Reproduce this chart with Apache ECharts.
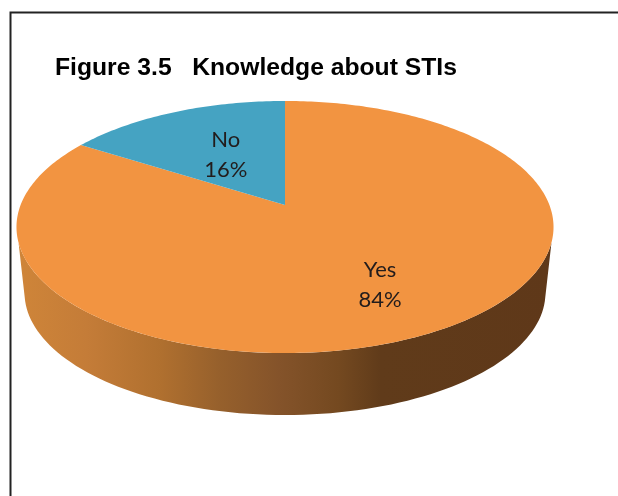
<!DOCTYPE html>
<html><head><meta charset="utf-8">
<style>html,body{margin:0;padding:0;background:#fff}#c{width:618px;height:496px}</style>
<script src="https://cdn.jsdelivr.net/npm/echarts@6/dist/echarts.min.js"></script>
</head><body><div id="c"></div>
<script>
var categories = ['Yes', 'No'];
var values = [84, 16];
var sliceColors = ['#F29441', '#45A3C2'];
var chartTitle = 'Figure 3.5   Knowledge about STIs';

var chart = echarts.init(document.getElementById('c'), null, {renderer:'canvas'});

// perspective view of the disc
var CX = 285, P = 0.1746;
function proj(th, level) {
  var X = Math.sin(th), Y = Math.cos(th), d = 1 + P * Y;
  var s = level ? 0.97 : 1, yc = level ? 271.4 : 205;
  return [CX + s * 264.4 * X / d, yc - s * 122.2 * Y / d];
}
function flat(v, r) { var d = 1 + P * r * Math.cos(v); return [CX + 264.4 * r * Math.sin(v) / d, 205 - 122.2 * r * Math.cos(v) / d]; }
var total = values.reduce(function (a, b) { return a + b; }, 0);
var TAU = Math.PI * 2;
var RAD = Math.PI / 180;

var rimGradient = new echarts.graphic.LinearGradient(18, 0, 552, 0, [
  {offset: 0, color: '#CF8539'},
  {offset: 0.13, color: '#C47C38'},
  {offset: 0.266, color: '#B0702F'},
  {offset: 0.378, color: '#96602C'},
  {offset: 0.49, color: '#84532A'},
  {offset: 0.60, color: '#744920'},
  {offset: 0.68, color: '#603B1A'},
  {offset: 1, color: '#5F3819'}
], true);

function renderRim() {
  var pts = [], i, n = 90, a = 107 * RAD, b = 104 * RAD;
  for (i = 0; i <= n; i++) pts.push(proj(a + (TAU - 2 * a) * i / n, 0));
  for (i = n; i >= 0; i--) pts.push(proj(b + (TAU - 2 * b) * i / n, 1));
  return {type: 'polygon', shape: {points: pts}, style: {fill: rimGradient}};
}

function renderSlice(params, api) {
  var idx = params.dataIndex;
  var before = 0;
  for (var k = 0; k < idx; k++) before += values[k];
  var a0 = before / total * TAU, a1 = (before + values[idx]) / total * TAU;
  var pts = [[CX, 205]];
  var n = Math.max(8, Math.round((a1 - a0) * 60));
  for (var i = 0; i <= n; i++) pts.push(proj(a0 + (a1 - a0) * i / n, 0));
  var mid = (a0 + a1) / 2, lp = flat(mid, idx === 0 ? 0.67 : 0.5);
  return {
    type: 'group',
    children: [
      {type: 'polygon', shape: {points: pts}, style: {fill: sliceColors[idx]}},
      {type: 'text', z2: 10, style: {
        x: lp[0], y: lp[1],
        text: categories[idx] + '\n' + values[idx] + '%',
        fill: '#221C1C', font: '22px Lato, "Open Sans", sans-serif',
        align: 'center', verticalAlign: 'middle', lineHeight: 30
      }}
    ]
  };
}

chart.setOption({
  animation: false,
  backgroundColor: '#ffffff',
  title: {
    text: chartTitle, left: 50, top: 51,
    textStyle: {fontFamily: '"Liberation Sans", Arial, sans-serif', fontSize: 24.7, fontWeight: 'bold', color: '#000'}
  },
  graphic: [{type: 'rect', silent: true, z: -1,
    shape: {x: 10.5, y: 12.5, width: 620, height: 500},
    style: {fill: 'none', stroke: '#222', lineWidth: 2}}],
  series: [
    {type: 'custom', coordinateSystem: 'none', data: [0], z: 1, renderItem: renderRim, silent: true},
    {type: 'custom', coordinateSystem: 'none', z: 2, silent: true, renderItem: renderSlice,
      data: categories.map(function (c, i) { return {name: c, value: values[i]}; })}
  ]
});
</script></body></html>
